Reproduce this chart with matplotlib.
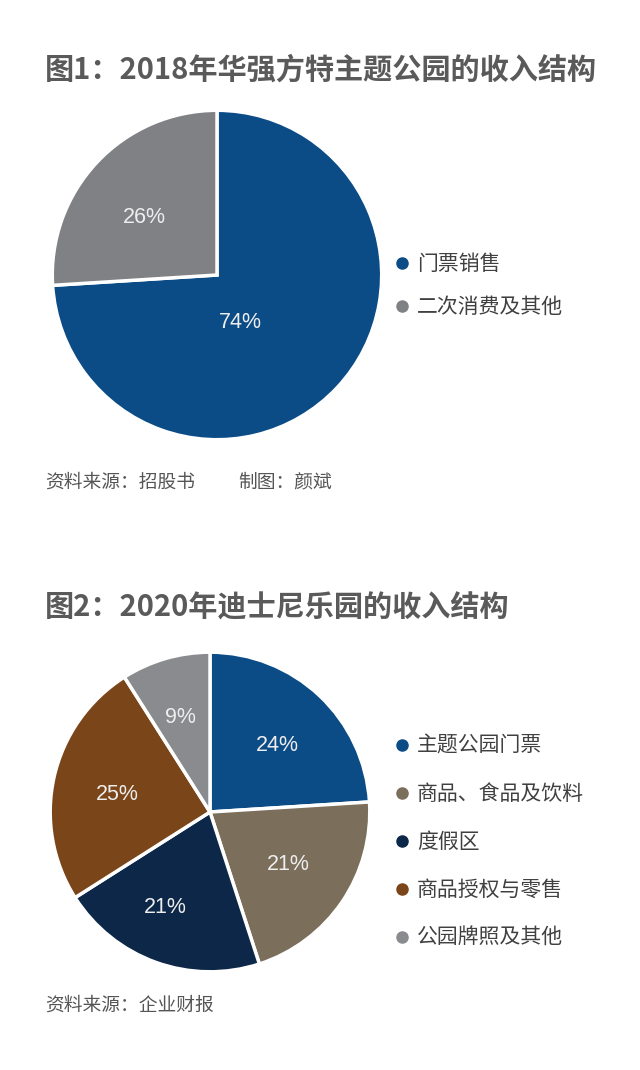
import matplotlib
matplotlib.use('Agg')
import matplotlib.pyplot as plt
from matplotlib.lines import Line2D
import numpy as np

plt.rcParams['font.family'] = ['Noto Sans CJK SC', 'DejaVu Sans']

# chart 1 data
labels1 = ['门票销售', '二次消费及其他']
values1 = [74, 26]
colors1 = ['#0b4c86', '#808184']

# chart 2 data
labels2 = ['主题公园门票', '商品、食品及饮料', '度假区', '商品授权与零售', '公园牌照及其他']
values2 = [24, 21, 21, 25, 9]
colors2 = ['#0b4c86', '#7b6e5b', '#0c2747', '#7a4518', '#8a8b8e']

W, H = 640, 1070
fig = plt.figure(figsize=(W / 100, H / 100), dpi=100)
fig.patch.set_facecolor('white')

def px_axes(x, y, w, h):
    # pixel box measured from top-left
    return fig.add_axes([x / W, (H - y - h) / H, w / W, h / H])

def draw_pie(ax, vals, cols, label_r, label_shift):
    wedges, _ = ax.pie(vals, colors=cols, startangle=90, counterclock=False,
                       wedgeprops=dict(edgecolor='white', linewidth=2.5))
    # percentage labels, placed like excel does
    for w, v, r, s in zip(wedges, vals, label_r, label_shift):
        ang = np.deg2rad((w.theta1 + w.theta2) / 2 + s)
        ax.text(r * np.cos(ang), r * np.sin(ang), '%d%%' % v, ha='center', va='center',
                color='#eeeeee', fontsize=15.5, family='Liberation Sans')
    ax.set_xlim(-1.02, 1.02)
    ax.set_ylim(-1.02, 1.02)
    ax.set_aspect('equal')
    ax.axis('off')

def draw_legend(x, y, labels, cols, spacing):
    handles = [Line2D([], [], marker='o', linestyle='none', markersize=8,
                      markerfacecolor=c, markeredgecolor=c) for c in cols]
    fig.legend(handles, labels, loc='upper left',
               bbox_to_anchor=(x / W, (H - y) / H), frameon=False,
               fontsize=15, labelcolor='#404040', handletextpad=0.3,
               handlelength=0.8, labelspacing=spacing, borderpad=0, borderaxespad=0)

title_kw = dict(fontsize=21, fontweight='bold', color='#5a5a5a', va='center', ha='left')
src_kw = dict(fontsize=13.5, color='#555555', va='center', ha='left', style='italic')

# chart 1
fig.text(45 / W, 1 - 70 / H, '图1：2018年华强方特主题公园的收入结构', **title_kw)
ax1 = px_axes(49, 107, 336, 336)
draw_pie(ax1, values1, colors1, [0.32, 0.56], [-21, 5])
draw_legend(394, 253, labels1, colors1, 1.02)
fig.text(45 / W, 1 - 482 / H, '资料来源：招股书', **src_kw)
fig.text(238 / W, 1 - 482 / H, '制图：颜斌', **src_kw)

# chart 2
fig.text(45 / W, 1 - 607 / H, '图2：2020年迪士尼乐园的收入结构', **title_kw)
ax2 = px_axes(47, 649, 326, 326)
draw_pie(ax2, values2, colors2, [0.59, 0.59, 0.66, 0.59, 0.62], [-2, 0, -5, 2, 1])
draw_legend(394, 735, labels2, colors2, 1.25)
fig.text(45 / W, 1 - 1005 / H, '资料来源：企业财报', **src_kw)

fig.savefig('out.png', dpi=100, facecolor='white')
